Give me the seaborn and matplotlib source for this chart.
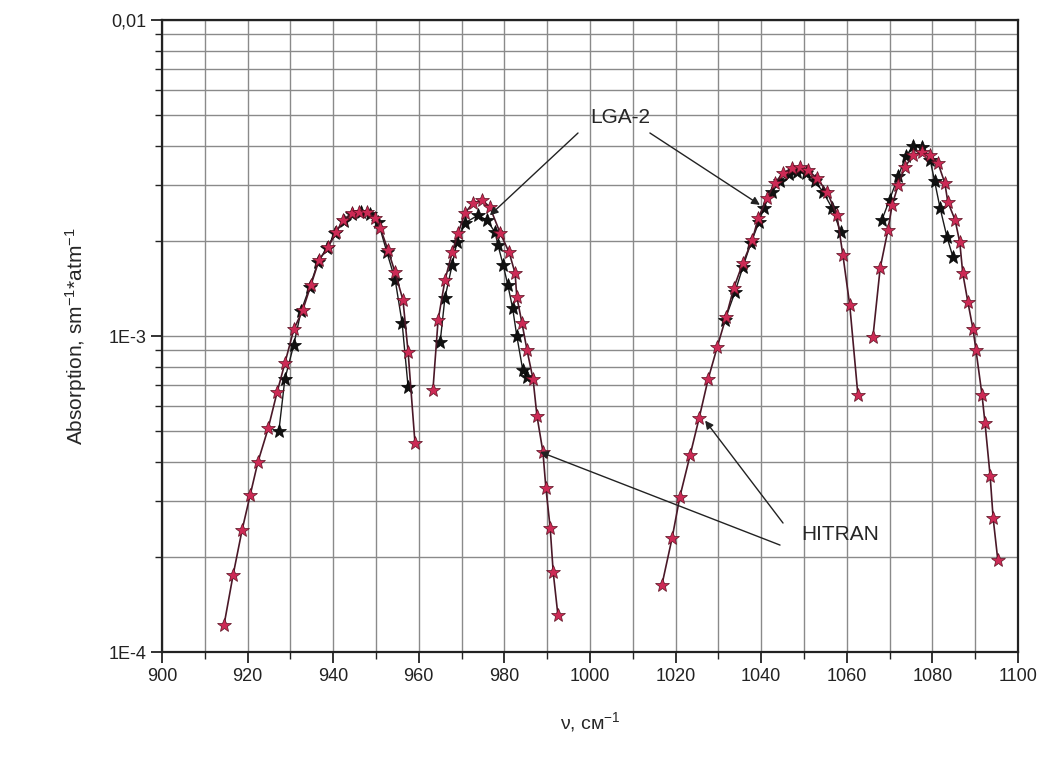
import numpy as np
import pandas as pd
import seaborn as sns
import matplotlib
matplotlib.use("Agg")
import matplotlib.pyplot as plt
from matplotlib.ticker import LogLocator, MultipleLocator, FixedFormatter, FixedLocator

# HITRAN, four bands
hit_x1 = [914.5, 916.6, 918.7, 920.6, 922.4, 924.8, 926.9, 928.7, 930.8, 932.9, 934.8, 936.7, 938.8,
          940.7, 942.3, 944.4, 946.0, 947.9, 949.8, 951.0, 952.8, 954.4, 956.3, 957.5, 959.1]
hit_y1 = [1.22e-4, 1.75e-4, 2.43e-4, 3.14e-4, 3.99e-4, 5.1e-4, 6.65e-4, 8.2e-4, 1.05e-3, 1.21e-3, 1.45e-3,
          1.74e-3, 1.91e-3, 2.13e-3, 2.33e-3, 2.45e-3, 2.47e-3, 2.47e-3, 2.36e-3, 2.2e-3, 1.87e-3, 1.6e-3,
          1.3e-3, 8.9e-4, 4.6e-4]
hit_x2 = [963.3, 964.5, 966.1, 967.8, 969.2, 970.8, 972.7, 974.8, 976.6, 979.0, 981.1, 982.5, 982.9,
          984.1, 985.3, 986.7, 987.6, 989.0, 989.7, 990.7, 991.4, 992.5]
hit_y2 = [6.75e-4, 1.12e-3, 1.5e-3, 1.84e-3, 2.12e-3, 2.45e-3, 2.64e-3, 2.69e-3, 2.56e-3, 2.12e-3, 1.84e-3,
          1.58e-3, 1.33e-3, 1.1e-3, 9.0e-4, 7.3e-4, 5.6e-4, 4.3e-4, 3.3e-4, 2.47e-4, 1.79e-4, 1.31e-4]
hit_x3 = [1016.8, 1019.2, 1021.0, 1023.4, 1025.5, 1027.6, 1029.7, 1031.8, 1033.6, 1035.7, 1037.9, 1039.3,
          1041.4, 1043.2, 1045.1, 1047.2, 1049.1, 1050.9, 1053.0, 1055.4, 1057.7, 1059.1, 1060.7, 1062.6]
hit_y3 = [1.63e-4, 2.3e-4, 3.1e-4, 4.2e-4, 5.5e-4, 7.3e-4, 9.2e-4, 1.15e-3, 1.42e-3, 1.7e-3, 2.01e-3,
          2.36e-3, 2.73e-3, 3.05e-3, 3.28e-3, 3.4e-3, 3.42e-3, 3.35e-3, 3.16e-3, 2.86e-3, 2.41e-3, 1.8e-3,
          1.25e-3, 6.5e-4]
hit_x4 = [1066.1, 1067.8, 1069.6, 1070.6, 1072.0, 1073.6, 1075.5, 1077.6, 1079.4, 1081.3, 1082.9, 1083.6,
          1085.3, 1086.4, 1087.1, 1088.3, 1089.5, 1090.2, 1091.6, 1092.3, 1093.5, 1094.2, 1095.3]
hit_y4 = [9.9e-4, 1.64e-3, 2.16e-3, 2.6e-3, 3.0e-3, 3.43e-3, 3.74e-3, 3.82e-3, 3.74e-3, 3.53e-3, 3.05e-3,
          2.66e-3, 2.33e-3, 1.98e-3, 1.58e-3, 1.28e-3, 1.05e-3, 9.0e-4, 6.5e-4, 5.3e-4, 3.6e-4, 2.65e-4, 1.95e-4]

# LGA-2, four bands
lga_x1 = [927.3, 928.7, 930.8, 932.5, 934.5, 936.5, 938.5, 940.5, 942.5, 944.5, 946.5, 948.5, 950.5,
          952.5, 954.5, 956.1, 957.5]
lga_y1 = [5.0e-4, 7.3e-4, 9.4e-4, 1.2e-3, 1.43e-3, 1.72e-3, 1.9e-3, 2.12e-3, 2.32e-3, 2.44e-3, 2.46e-3,
          2.44e-3, 2.3e-3, 1.85e-3, 1.5e-3, 1.1e-3, 6.9e-4]
lga_x2 = [965.0, 966.1, 967.8, 968.9, 970.8, 973.8, 975.9, 977.8, 978.5, 979.7, 980.8, 981.9, 982.9,
          984.3, 985.3]
lga_y2 = [9.6e-4, 1.32e-3, 1.68e-3, 1.98e-3, 2.28e-3, 2.41e-3, 2.33e-3, 2.13e-3, 1.94e-3, 1.68e-3,
          1.45e-3, 1.23e-3, 1.0e-3, 7.8e-4, 7.4e-4]
lga_x3 = [1031.5, 1033.9, 1035.7, 1037.6, 1039.5, 1040.6, 1042.5, 1044.5, 1046.5, 1048.4, 1050.5,
          1052.5, 1054.5, 1056.5, 1058.6]
lga_y3 = [1.12e-3, 1.38e-3, 1.65e-3, 1.97e-3, 2.3e-3, 2.55e-3, 2.85e-3, 3.1e-3, 3.25e-3, 3.3e-3, 3.28e-3,
          3.1e-3, 2.85e-3, 2.55e-3, 2.13e-3]
lga_x4 = [1068.2, 1070.0, 1072.0, 1073.8, 1075.5, 1077.5, 1079.5, 1080.5, 1081.8, 1083.4, 1084.8]
lga_y4 = [2.33e-3, 2.7e-3, 3.2e-3, 3.7e-3, 4.0e-3, 3.95e-3, 3.6e-3, 3.1e-3, 2.54e-3, 2.06e-3, 1.78e-3]


def frame(xs, ys):
    parts = []
    for i, (x, y) in enumerate(zip(xs, ys)):
        parts.append(pd.DataFrame({"nu": x, "absorption": y, "band": i}))
    return pd.concat(parts, ignore_index=True)


hitran = frame([hit_x1, hit_x2, hit_x3, hit_x4], [hit_y1, hit_y2, hit_y3, hit_y4])
lga = frame([lga_x1, lga_x2, lga_x3, lga_x4], [lga_y1, lga_y2, lga_y3, lga_y4])

sns.set_style("white")
plt.rcParams["font.family"] = ["Liberation Sans", "DejaVu Sans"]
plt.rcParams["mathtext.default"] = "regular"

fig = plt.figure(figsize=(10.5, 7.58), dpi=100)
ax = fig.add_axes([0.1543, 0.1398, 0.8152, 0.8338])

sns.lineplot(data=lga, x="nu", y="absorption", units="band", estimator=None, ax=ax,
             color="#1a1a1a", lw=1.0, marker="*", markersize=10, markeredgecolor="#000000",
             markerfacecolor="#111111", markeredgewidth=0.5, sort=False)
sns.lineplot(data=hitran, x="nu", y="absorption", units="band", estimator=None, ax=ax,
             color="#4a1828", lw=1.2, marker="*", markersize=10, markeredgecolor="#5a1020",
             markerfacecolor="#cc2a55", markeredgewidth=0.5, sort=False)

ax.set_yscale("log")
ax.set_xlim(900, 1100)
ax.set_ylim(1e-4, 1e-2)

ax.xaxis.set_major_locator(MultipleLocator(20))
ax.xaxis.set_minor_locator(MultipleLocator(10))
ax.yaxis.set_major_locator(FixedLocator([1e-4, 1e-3, 1e-2]))
ax.yaxis.set_major_formatter(FixedFormatter(["1E-4", "1E-3", "0,01"]))
ax.yaxis.set_minor_locator(LogLocator(base=10, subs=np.arange(2, 10)))
ax.yaxis.set_minor_formatter(FixedFormatter([]))

ax.grid(which="both", color="#8a8a8a", lw=1.0)
ax.set_axisbelow(True)
for s in ax.spines.values():
    s.set_color("#222222")
    s.set_linewidth(1.6)

ax.tick_params(which="major", direction="out", length=8, width=1.3, labelsize=13,
               left=True, bottom=True, colors="#222222")
ax.tick_params(which="minor", direction="out", length=5, width=1.0, left=True, bottom=True,
               colors="#222222")

ax.set_xlabel("ν, см$^{-1}$", fontsize=14, labelpad=18)
ax.set_ylabel("Absorption, sm$^{-1}$*atm$^{-1}$", fontsize=15, labelpad=14)

arrow = dict(arrowstyle="-|>", color="#222222", lw=1.0, mutation_scale=12, shrinkA=0, shrinkB=0)
ax.text(1007, 4.9e-3, "LGA-2", fontsize=15, ha="center", va="center")
ax.annotate("", xy=(976.6, 2.41e-3), xytext=(997.2, 4.39e-3), arrowprops=arrow)
ax.annotate("", xy=(1039.7, 2.6e-3), xytext=(1014.0, 4.39e-3), arrowprops=arrow)
ax.text(1058.4, 2.35e-4, "HITRAN", fontsize=15, ha="center", va="center")
ax.annotate("", xy=(988.3, 4.3e-4), xytext=(1044.4, 2.18e-4), arrowprops=arrow)
ax.annotate("", xy=(1026.9, 5.4e-4), xytext=(1045.1, 2.56e-4), arrowprops=arrow)

ax.legend_ = None
fig.savefig("out.png", dpi=100)
